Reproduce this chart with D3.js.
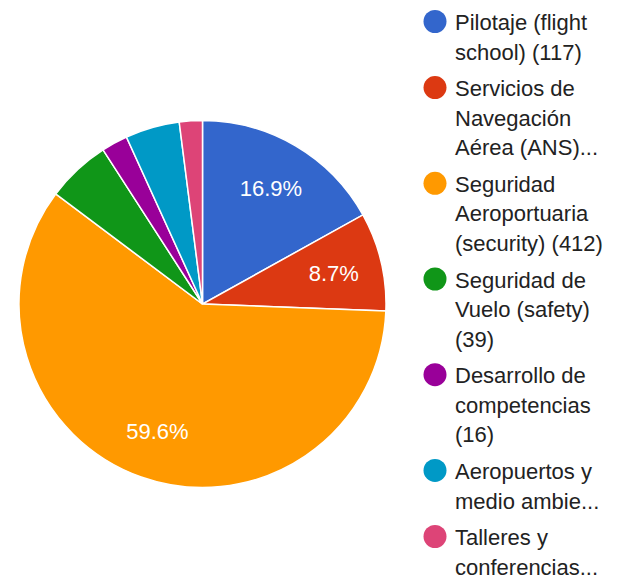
<!DOCTYPE html>
<html>
<head>
<meta charset="utf-8">
<script src="https://cdn.jsdelivr.net/npm/d3@7"></script>
<style>
  html, body { margin: 0; padding: 0; background: #fff; }
  svg { display: block; }
  text { font-family: Arial, "Liberation Sans", sans-serif; }
</style>
</head>
<body>
<svg id="chart" width="617" height="582"></svg>
<script>
// ---- data ----
const categories = [
  "Pilotaje (flight school)",
  "Servicios de Navegación Aérea (ANS)",
  "Seguridad Aeroportuaria (security)",
  "Seguridad de Vuelo (safety)",
  "Desarrollo de competencias",
  "Aeropuertos y medio ambiente",
  "Talleres y conferencias"
];
const values = [117, 60, 412, 39, 16, 33, 14];
const legendLines = [
  ["Pilotaje (flight", "school) (117)"],
  ["Servicios de", "Navegación", "Aérea (ANS)..."],
  ["Seguridad", "Aeroportuaria", "(security) (412)"],
  ["Seguridad de", "Vuelo (safety)", "(39)"],
  ["Desarrollo de", "competencias", "(16)"],
  ["Aeropuertos y", "medio ambie..."],
  ["Talleres y", "conferencias..."]
];
const colors = ["#3366cc", "#dc3912", "#ff9900", "#109618", "#990099", "#0099c6", "#dd4477"];

// ---- layout ----
const svg = d3.select("#chart");
const cx = 202.5, cy = 304, R = 183.5;
const labelR = 135;
const labelThreshold = 0.08;

const data = categories.map((c, i) => ({ name: c, value: values[i], color: colors[i], lines: legendLines[i] }));
const total = d3.sum(values);

const pie = d3.pie().value(d => d.value).sort(null);
const arcs = pie(data);
const arc = d3.arc().innerRadius(0).outerRadius(R);
const labelArc = d3.arc().innerRadius(labelR).outerRadius(labelR);

const g = svg.append("g").attr("transform", `translate(${cx},${cy})`);
g.selectAll("path.slice")
  .data(arcs)
  .join("path")
  .attr("class", "slice")
  .attr("d", arc)
  .attr("fill", d => d.data.color)
  .attr("stroke", "#ffffff")
  .attr("stroke-width", 1.5);

const fmt = d3.format(".1%");
g.selectAll("text.pct")
  .data(arcs.filter(d => d.data.value / total >= labelThreshold))
  .join("text")
  .attr("class", "pct")
  .attr("transform", d => `translate(${labelArc.centroid(d)})`)
  .attr("text-anchor", "middle")
  .attr("dy", "0.36em")
  .attr("fill", "#ffffff")
  .attr("font-size", 22)
  .text(d => fmt(d.data.value / total));

// ---- legend ----
const lineH = 29.6, itemGap = 36.5;
const legendX = 455, circleX = 435;
let y = 30;
const legend = svg.append("g");
data.forEach((d, i) => {
  const item = legend.append("g");
  item.append("circle")
    .attr("cx", circleX)
    .attr("cy", y - 8.5)
    .attr("r", 11.5)
    .attr("fill", d.color);
  const t = item.append("text")
    .attr("x", legendX)
    .attr("y", y)
    .attr("fill", "#222222")
    .attr("font-size", 22);
  d.lines.forEach((ln, j) => {
    t.append("tspan")
      .attr("x", legendX)
      .attr("y", y + j * lineH)
      .text(ln);
  });
  y += (d.lines.length - 1) * lineH + itemGap;
});
</script>
</body>
</html>
